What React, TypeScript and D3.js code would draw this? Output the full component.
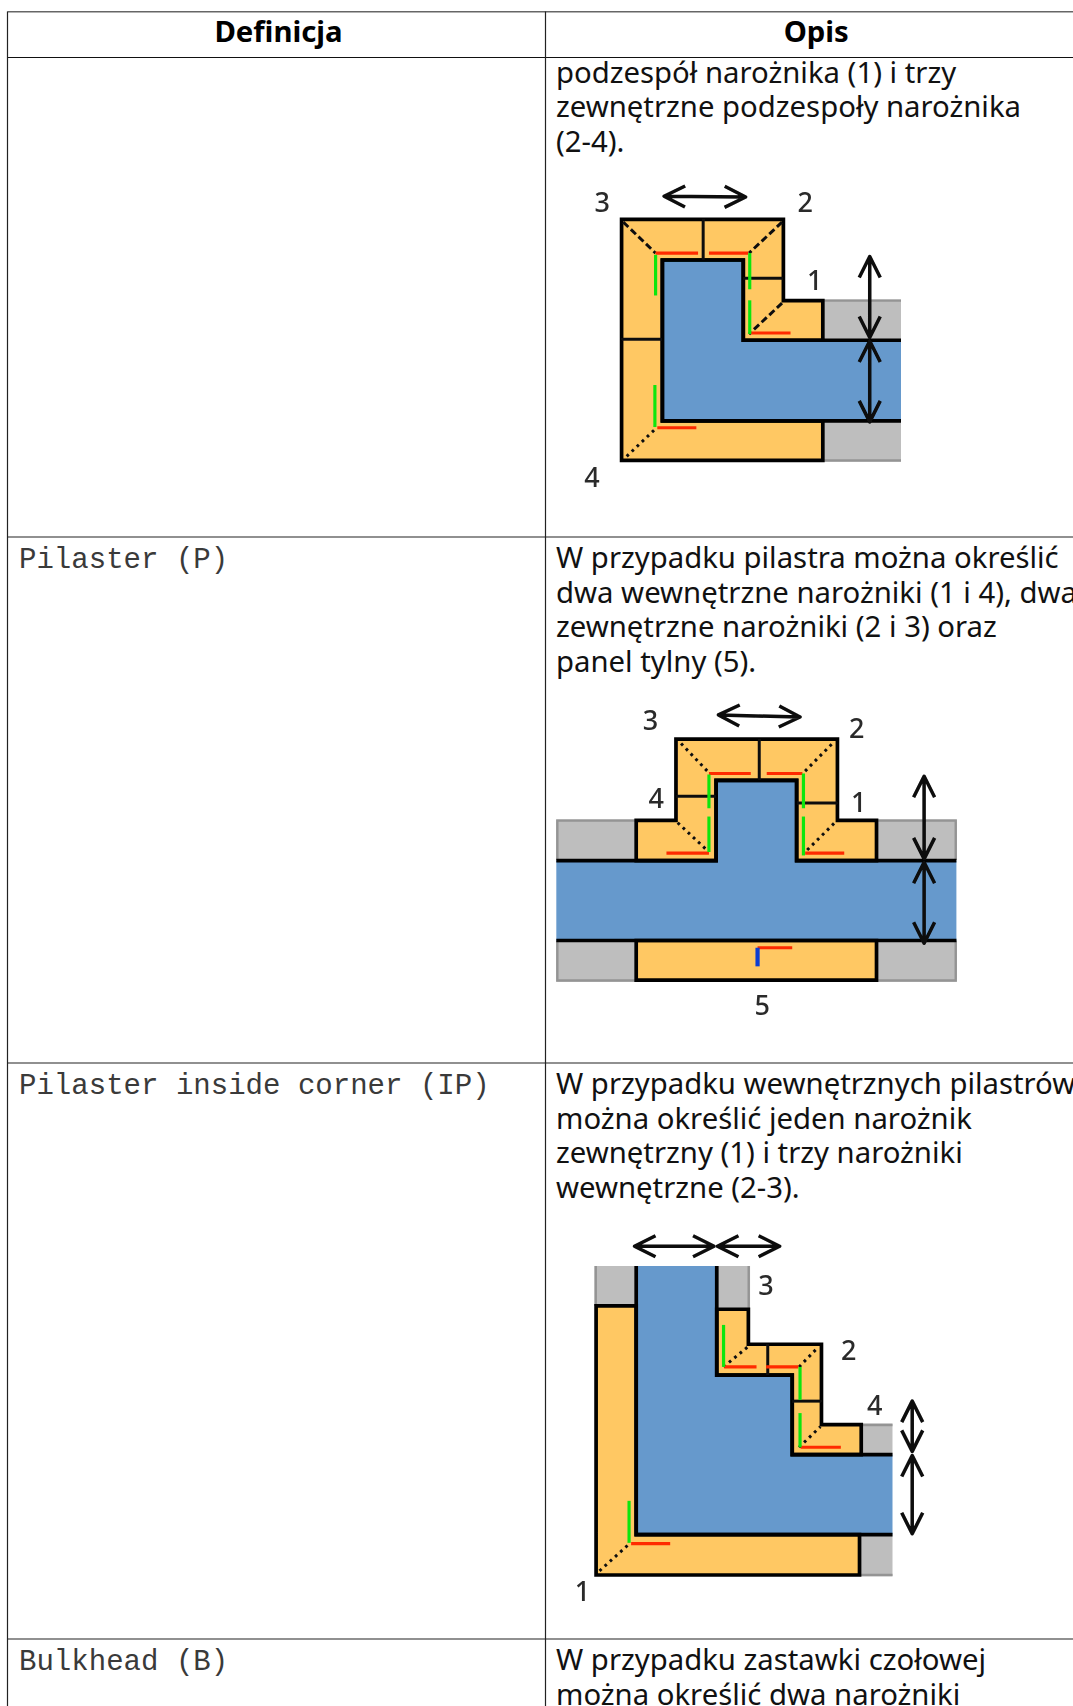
import * as d3 from "d3";

type Pt = [number, number];

const headers = ["Definicja", "Opis"];
const rowNames = ["Pilaster (P)", "Pilaster inside corner (IP)", "Bulkhead (B)"];
const rowNameBaselines = [568, 1094, 1670];
const rowLines = [537, 1063, 1639];

const continuedText = ["podzespół narożnika (1) i trzy", "zewnętrzne podzespoły narożnika", "(2-4)."];
const pilasterText = ["W przypadku pilastra można określić", "dwa wewnętrzne narożniki (1 i 4), dwa", "zewnętrzne narożniki (2 i 3) oraz", "panel tylny (5)."];
const insideText = ["W przypadku wewnętrznych pilastrów", "można określić jeden narożnik", "zewnętrzny (1) i trzy narożniki", "wewnętrzne (2-3)."];
const bulkheadText = ["W przypadku zastawki czołowej", "można określić dwa narożniki"];

const ORANGE = "#ffc864";
const BLUE = "#6699cc";
const GRAY = "#bebebe";
const GRAY_EDGE = "#949494";
const RED = "#ff2a00";
const GREEN = "#11e611";
const BAR_BLUE = "#0a3cd2";

type Diagram = {
  crop: { x: number; y: number; w: number; h: number };
  gray: Pt[][];
  grayEdges: Pt[][];
  blue: Pt[];
  blueEdges: Pt[][];
  orange: Pt[][];
  thin: Pt[][];
  dashed: Pt[][];
  dotted: Pt[][];
  red: Pt[][];
  green: Pt[][];
  barBlue: Pt[][];
  arrows: Pt[][];
  labels: { t: string; at: Pt }[];
};

const cornerDiagram: Diagram = {
  crop: { x: 540, y: 0, w: 533, h: 540 },
  gray: [
    [[832, 870], [1062, 870], [1062, 988], [832, 988]],
    [[832, 1222], [1062, 1222], [1062, 1340], [832, 1340]],
  ],
  grayEdges: [
    [[832, 873], [1062, 873]],
    [[832, 1337], [1062, 1337]],
  ],
  blue: [[360, 755], [598, 755], [598, 988], [1062, 988], [1062, 1222], [360, 1222]],
  blueEdges: [[[1062, 988], [598, 988], [598, 755], [360, 755], [360, 1222], [1062, 1222]]],
  orange: [[[240, 637], [716, 637], [716, 873], [832, 873], [832, 988], [598, 988], [598, 755], [360, 755], [360, 1222], [832, 1222], [832, 1337], [240, 1337]]],
  thin: [
    [[480, 637], [480, 755]],
    [[598, 808], [716, 808]],
    [[240, 985], [360, 985]],
  ],
  dashed: [
    [[245, 645], [340, 735]],
    [[712, 645], [615, 735]],
    [[712, 880], [615, 970]],
  ],
  dotted: [[[255, 1325], [340, 1245]]],
  red: [
    [[340, 735], [465, 735]],
    [[497, 735], [612, 735]],
    [[620, 967], [737, 967]],
    [[345, 1242], [460, 1242]],
  ],
  green: [
    [[340, 740], [340, 858]],
    [[617, 735], [617, 840]],
    [[617, 872], [617, 970]],
    [[338, 1118], [338, 1240]],
  ],
  barBlue: [],
  arrows: [
    [[365, 570], [605, 572]],
    [[970, 745], [970, 980]],
    [[970, 990], [970, 1225]],
  ],
  labels: [
    { t: "3", at: [183, 587] },
    { t: "2", at: [780, 587] },
    { t: "1", at: [808, 813] },
    { t: "4", at: [153, 1385] },
  ],
};

const pilasterDiagram: Diagram = {
  crop: { x: 540, y: 530, w: 533, h: 540 },
  gray: [
    [[48, 840], [283, 840], [283, 958], [48, 958]],
    [[990, 840], [1226, 840], [1226, 958], [990, 958]],
    [[48, 1192], [283, 1192], [283, 1312], [48, 1312]],
    [[990, 1192], [1226, 1192], [1226, 1312], [990, 1312]],
  ],
  grayEdges: [
    [[283, 844], [51, 844], [51, 958]],
    [[990, 844], [1223, 844], [1223, 958]],
    [[51, 1192], [51, 1308], [283, 1308]],
    [[1223, 1192], [1223, 1308], [990, 1308]],
  ],
  blue: [[48, 960], [518, 960], [518, 727], [755, 727], [755, 960], [1225, 960], [1225, 1192], [48, 1192]],
  blueEdges: [
    [[48, 960], [518, 960], [518, 727], [755, 727], [755, 960], [1225, 960]],
    [[48, 1192], [1225, 1192]],
  ],
  orange: [
    [[400, 607], [875, 607], [875, 843], [990, 843], [990, 960], [755, 960], [755, 727], [518, 727], [518, 960], [283, 960], [283, 843], [400, 843]],
    [[283, 1192], [990, 1192], [990, 1307], [283, 1307]],
  ],
  thin: [
    [[645, 607], [645, 727]],
    [[400, 773], [518, 773]],
    [[755, 793], [875, 793]],
  ],
  dashed: [],
  dotted: [
    [[415, 620], [497, 705]],
    [[858, 622], [775, 705]],
    [[405, 850], [497, 935]],
    [[865, 852], [775, 940]],
  ],
  red: [
    [[497, 707], [620, 707]],
    [[667, 707], [772, 707]],
    [[372, 938], [497, 938]],
    [[780, 938], [895, 938]],
    [[640, 1213], [742, 1213]],
  ],
  green: [
    [[497, 710], [497, 808]],
    [[775, 707], [775, 808]],
    [[497, 832], [497, 935]],
    [[775, 832], [775, 945]],
  ],
  barBlue: [[[640, 1213], [640, 1267]]],
  arrows: [
    [[525, 537], [765, 543]],
    [[1130, 715], [1130, 955]],
    [[1130, 965], [1130, 1200]],
  ],
  labels: [
    { t: "3", at: [325, 552] },
    { t: "2", at: [932, 575] },
    { t: "4", at: [342, 780] },
    { t: "1", at: [938, 790] },
    { t: "5", at: [654, 1380] },
  ],
};

const insideDiagram: Diagram = {
  crop: { x: 540, y: 1060, w: 533, h: 646 },
  gray: [
    [[160, 500], [283, 500], [283, 597], [160, 597]],
    [[520, 500], [618, 500], [618, 605], [520, 605]],
    [[945, 882], [1037, 882], [1037, 958], [945, 958]],
    [[940, 1152], [1037, 1152], [1037, 1253], [940, 1253]],
  ],
  grayEdges: [
    [[164, 500], [164, 597]],
    [[614, 500], [614, 605]],
    [[945, 886], [1037, 886]],
    [[940, 1250], [1037, 1250]],
  ],
  blue: [[283, 500], [520, 500], [520, 765], [742, 765], [742, 958], [1037, 958], [1037, 1152], [283, 1152]],
  blueEdges: [[[283, 500], [283, 1152], [1037, 1152]], [[520, 500], [520, 765], [742, 765], [742, 958], [1037, 958]]],
  orange: [
    [[165, 597], [283, 597], [283, 1152], [940, 1152], [940, 1250], [165, 1250]],
    [[520, 605], [613, 605], [613, 690], [828, 690], [828, 885], [945, 885], [945, 958], [742, 958], [742, 765], [520, 765]],
  ],
  thin: [
    [[670, 690], [670, 765]],
    [[742, 828], [828, 828]],
  ],
  dashed: [],
  dotted: [
    [[540, 745], [613, 695]],
    [[762, 745], [815, 700]],
    [[762, 940], [825, 890]],
    [[175, 1240], [262, 1175]],
  ],
  red: [
    [[542, 745], [637, 745]],
    [[665, 745], [760, 745]],
    [[767, 940], [885, 940]],
    [[268, 1174], [383, 1174]],
  ],
  green: [
    [[540, 643], [540, 745]],
    [[765, 745], [765, 825]],
    [[765, 857], [765, 940]],
    [[262, 1070], [262, 1172]],
  ],
  barBlue: [],
  arrows: [
    [[278, 452], [512, 452]],
    [[522, 452], [705, 452]],
    [[1095, 828], [1095, 950]],
    [[1095, 960], [1095, 1150]],
  ],
  labels: [
    { t: "3", at: [665, 548] },
    { t: "2", at: [908, 705] },
    { t: "4", at: [985, 837] },
    { t: "1", at: [125, 1290] },
  ],
};

const lineGen = d3.line<Pt>();

function arrowPath(a: Pt, b: Pt) {
  // double headed arrow, barbs in screen px
  const ang = Math.atan2(b[1] - a[1], b[0] - a[0]);
  const barb = (p: Pt, dir: number): Pt[] => {
    const c = Math.cos(ang) * dir;
    const s = Math.sin(ang) * dir;
    return [[p[0] + 21 * c - 10.5 * s, p[1] + 21 * s + 10.5 * c], p, [p[0] + 21 * c + 10.5 * s, p[1] + 21 * s - 10.5 * c]];
  };
  return [lineGen([a, b]), lineGen(barb(a, 1)), lineGen(barb(b, -1))].join("");
}

function DiagramMarks({ d }: { d: Diagram }) {
  const x = d3.scaleLinear().domain([0, 1568]).range([d.crop.x, d.crop.x + d.crop.w]);
  const y = d3.scaleLinear().domain([0, 1568]).range([d.crop.y, d.crop.y + d.crop.h]);
  const px = (pts: Pt[]): Pt[] => pts.map(p => [x(p[0]), y(p[1])]);
  const path = (pts: Pt[]) => lineGen(px(pts)) as string;

  return (
    <g filter="url(#soft)">
      {d.gray.map((p, i) => <path key={i} d={path(p) + "Z"} fill={GRAY} />)}
      {d.grayEdges.map((p, i) => <path key={i} d={path(p)} fill="none" stroke={GRAY_EDGE} strokeWidth={2.4} />)}
      <path d={path(d.blue) + "Z"} fill={BLUE} />
      {d.orange.map((p, i) => <path key={i} d={path(p) + "Z"} fill={ORANGE} stroke="#000" strokeWidth={3.7} strokeLinejoin="miter" />)}
      {d.blueEdges.map((p, i) => <path key={i} d={path(p)} fill="none" stroke="#000" strokeWidth={3.7} />)}
      {d.thin.map((p, i) => <path key={i} d={path(p)} fill="none" stroke="#111" strokeWidth={3} />)}
      {d.dashed.map((p, i) => <path key={i} d={path(p)} fill="none" stroke="#111" strokeWidth={3} strokeDasharray="7 3.5" />)}
      {d.dotted.map((p, i) => <path key={i} d={path(p)} fill="none" stroke="#111" strokeWidth={3} strokeDasharray="2.8 4.2" />)}
      {d.red.map((p, i) => <path key={i} d={path(p)} fill="none" stroke={RED} strokeWidth={3.2} />)}
      {d.green.map((p, i) => <path key={i} d={path(p)} fill="none" stroke={GREEN} strokeWidth={3.2} />)}
      {d.barBlue.map((p, i) => <path key={i} d={path(p)} fill="none" stroke={BAR_BLUE} strokeWidth={4.2} />)}
      {d.arrows.map((p, i) => {
        const [a, b] = px(p);
        return <path key={i} d={arrowPath(a, b)} fill="none" stroke="#0a0a0a" strokeWidth={3.5} strokeLinejoin="round" />;
      })}
      {d.labels.map((l, i) => (
        <text key={i} x={x(l.at[0])} y={y(l.at[1])} dy="0.36em" textAnchor="middle" fontFamily="'Noto Sans'" fontSize={27} fontWeight={500} fill="#2a2a2a">
          {l.t}
        </text>
      ))}
    </g>
  );
}

function Lines({ lines, x, y }: { lines: string[]; x: number; y: number }) {
  const body = d3.scaleLinear().domain([0, 1]).range([y, y + 34.5]);
  return (
    <text fontFamily="'Noto Sans'" fontSize={29.3} fill="#111">
      {lines.map((l, i) => <tspan key={i} x={x} y={body(i)}>{l}</tspan>)}
    </text>
  );
}

export default function App() {
  const left = 7.5;
  const split = 545.5;
  const right = 1087;

  return (
    <svg width={1073} height={1706} style={{ position: "absolute", left: 0, top: 0, background: "#fff" }}>
      <defs>
        <filter id="soft" x="-5%" y="-5%" width="110%" height="110%">
          <feGaussianBlur stdDeviation="0.6" />
        </filter>
      </defs>

      {/* table rules */}
      <line x1={left} x2={right} y1={11.8} y2={11.8} stroke="#666" strokeWidth={1.4} />
      <line x1={left} x2={right} y1={57.5} y2={57.5} stroke="#111" strokeWidth={1.2} />
      {rowLines.map(y => <line key={y} x1={left} x2={right} y1={y} y2={y} stroke="#222" strokeWidth={1.2} />)}
      <line x1={left} x2={left} y1={11.5} y2={1706} stroke="#222" strokeWidth={1.2} />
      <line x1={split} x2={split} y1={11.5} y2={1706} stroke="#222" strokeWidth={1.2} />

      <text x={278.5} y={42} textAnchor="middle" fontFamily="'Noto Sans'" fontWeight={700} fontSize={29.3} fill="#000">{headers[0]}</text>
      <text x={(split + right) / 2} y={42} textAnchor="middle" fontFamily="'Noto Sans'" fontWeight={700} fontSize={29.3} fill="#000">{headers[1]}</text>

      {rowNames.map((n, i) => (
        <text key={n} x={19} y={rowNameBaselines[i]} fontFamily="'Liberation Mono'" fontSize={29.05} fill="#3a3a3a">{n}</text>
      ))}

      <Lines lines={continuedText} x={556} y={82.5} />
      <Lines lines={pilasterText} x={556} y={568} />
      <Lines lines={insideText} x={556} y={1094} />
      <Lines lines={bulkheadText} x={556} y={1670} />

      <DiagramMarks d={cornerDiagram} />
      <DiagramMarks d={pilasterDiagram} />
      <DiagramMarks d={insideDiagram} />
    </svg>
  );
}
